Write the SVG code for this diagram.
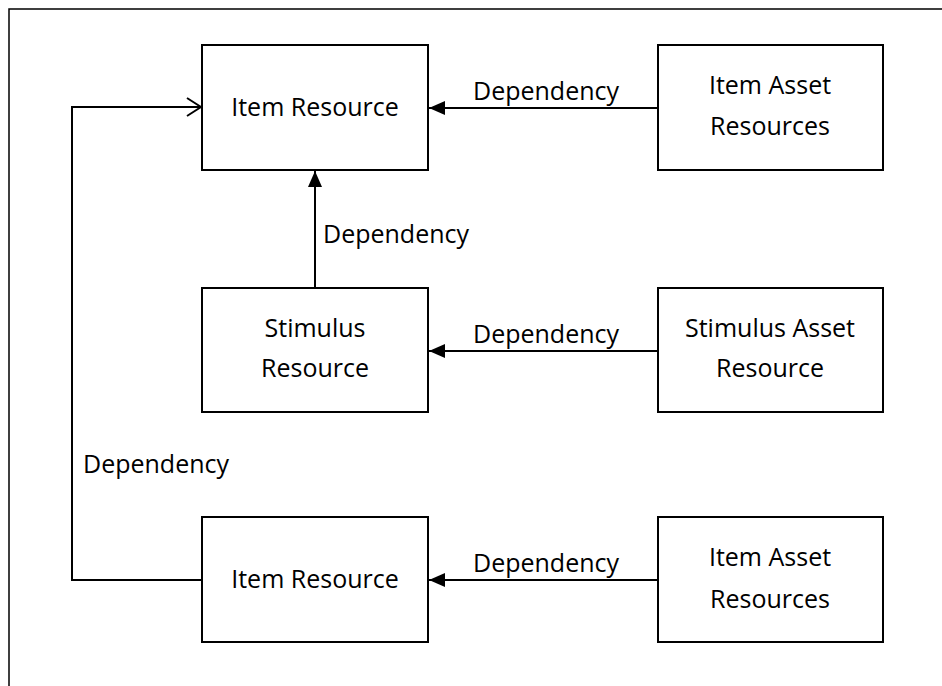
<svg xmlns="http://www.w3.org/2000/svg" width="942" height="686" viewBox="0 0 942 686">
<style>
.box{fill:#fff;stroke:#000;stroke-width:2}
.t{font-family:"Open Sans","Liberation Sans",sans-serif;font-size:25px;fill:#000}
.c{text-anchor:middle}
.ln{fill:none;stroke:#000;stroke-width:2}
</style>
<defs>
<marker id="fa" markerWidth="16" markerHeight="14" refX="16" refY="7" orient="auto" markerUnits="userSpaceOnUse"><path d="M0,0 L16,7 L0,14 Z" fill="#000"/></marker>
<marker id="oa" markerWidth="16" markerHeight="20" refX="15" refY="10" orient="auto" markerUnits="userSpaceOnUse"><path d="M1,1 L15,10 L1,19" fill="none" stroke="#000" stroke-width="2"/></marker>
</defs>
<rect x="9" y="9" width="960" height="700" fill="#fff" stroke="#000" stroke-width="1.5"/>
<g id="connectors">
<line class="ln" x1="657" y1="108" x2="429" y2="108" marker-end="url(#fa)"/>
<line class="ln" x1="315" y1="288" x2="315" y2="171" marker-end="url(#fa)"/>
<line class="ln" x1="657" y1="351" x2="429" y2="351" marker-end="url(#fa)"/>
<line class="ln" x1="657" y1="580" x2="429" y2="580" marker-end="url(#fa)"/>
<polyline class="ln" points="202,580 72,580 72,107 201,107" marker-end="url(#oa)"/>
<text class="t" x="473" y="100">Dependency</text>
<text class="t" x="323" y="243">Dependency</text>
<text class="t" x="473" y="343">Dependency</text>
<text class="t" x="473" y="572">Dependency</text>
<text class="t" x="83" y="473">Dependency</text>
</g>
<g id="item-resource-top"><rect class="box" x="202" y="45" width="226" height="125"/><text class="t c" x="315" y="116">Item Resource</text></g>
<g id="item-asset-top"><rect class="box" x="658" y="45" width="225" height="125"/><text class="t c" x="770" y="94">Item Asset</text><text class="t c" x="770" y="135">Resources</text></g>
<g id="stimulus-resource"><rect class="box" x="202" y="288" width="226" height="124"/><text class="t c" x="315" y="337">Stimulus</text><text class="t c" x="315" y="377">Resource</text></g>
<g id="stimulus-asset"><rect class="box" x="658" y="288" width="225" height="124"/><text class="t c" x="770" y="337">Stimulus Asset</text><text class="t c" x="770" y="377">Resource</text></g>
<g id="item-resource-bottom"><rect class="box" x="202" y="517" width="226" height="125"/><text class="t c" x="315" y="588">Item Resource</text></g>
<g id="item-asset-bottom"><rect class="box" x="658" y="517" width="225" height="125"/><text class="t c" x="770" y="566">Item Asset</text><text class="t c" x="770" y="608">Resources</text></g>
</svg>
